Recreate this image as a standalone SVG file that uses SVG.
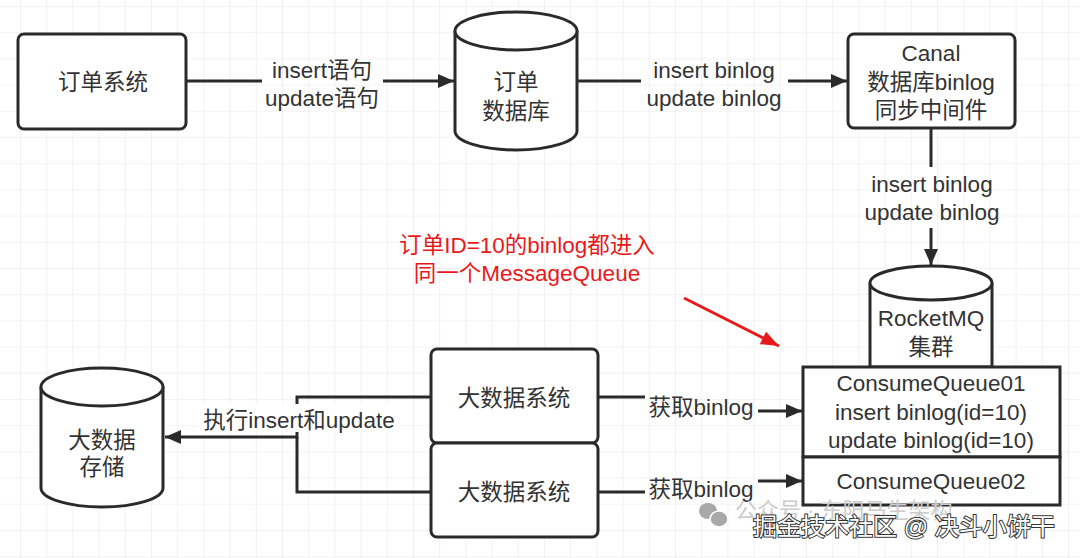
<svg xmlns="http://www.w3.org/2000/svg" width="1080" height="558" viewBox="0 0 1080 558">
<defs>
<pattern id="grid" x="20" y="6" width="26.2" height="26.2" patternUnits="userSpaceOnUse">
<path d="M0,0 V26.2 M0,0 H26.2" fill="none" stroke="#e8e8e8" stroke-width="1.2"/>
</pattern>
<marker id="arr" markerUnits="userSpaceOnUse" markerWidth="18" markerHeight="18" viewBox="0 0 18 18" refX="17" refY="9" orient="auto">
<path d="M1,2 L17,9 L1,16 Z" fill="#2a2a2a"/>
</marker>
<marker id="arrRed" markerUnits="userSpaceOnUse" markerWidth="20" markerHeight="20" viewBox="0 0 20 20" refX="19" refY="10" orient="auto">
<path d="M1,3 L19,10 L1,17 Z" fill="#e8191b"/>
</marker>
</defs>
<style>
.shape{fill:#ffffff;stroke:#2a2a2a;stroke-width:3}
.t{font-family:"Liberation Sans","Noto Sans CJK SC",sans-serif;font-size:22.5px;fill:#333333;text-anchor:middle}
.edge{fill:none;stroke:#2a2a2a;stroke-width:3}
.lbg{fill:#ffffff}
.red{font-family:"Liberation Sans","Noto Sans CJK SC",sans-serif;font-size:22.5px;fill:#e8191b;text-anchor:middle}
</style>
<rect width="1080" height="558" fill="#ffffff"/>
<rect width="1080" height="558" fill="url(#grid)"/>

<g id="connectors">
<path class="edge" d="M186,81 H262"/>
<path class="edge" d="M383,81 H454" marker-end="url(#arr)"/>
<text class="t" x="322" y="78">insert语句</text>
<text class="t" x="322" y="106">update语句</text>

<path class="edge" d="M577,81 H641"/>
<path class="edge" d="M788,81 H847" marker-end="url(#arr)"/>
<text class="t" x="714" y="78">insert binlog</text>
<text class="t" x="714" y="106">update binlog</text>

<path class="edge" d="M931,128 V167"/>
<path class="edge" d="M931,228 V265" marker-end="url(#arr)"/>
<text class="t" x="932" y="192">insert binlog</text>
<text class="t" x="932" y="220">update binlog</text>

<path class="edge" d="M598,397 H645"/>
<path class="edge" d="M758,411 H802" marker-end="url(#arr)"/>
<text class="t" x="701" y="415">获取binlog</text>

<path class="edge" d="M598,492 H645"/>
<path class="edge" d="M758,481 H802" marker-end="url(#arr)"/>
<text class="t" x="701" y="497">获取binlog</text>

<path class="edge" d="M431,397 H297 V437 H165" marker-end="url(#arr)"/>
<path class="edge" d="M431,492 H297 V437"/>
<rect class="lbg" x="198" y="404" width="202" height="28"/>
<text class="t" x="299" y="428">执行insert和update</text>

<path d="M684,298 L779,346" fill="none" stroke="#e8191b" stroke-width="3" marker-end="url(#arrRed)"/>
</g>

<g id="order-system">
<rect class="shape" x="18" y="34" width="168" height="95" rx="6"/>
<text class="t" x="103" y="90">订单系统</text>
</g>

<g id="order-db">
<path class="shape" d="M455,31 V131 A61,19 0 0 0 577,131 V31"/>
<ellipse class="shape" cx="516" cy="31" rx="61" ry="19"/>
<text class="t" x="516" y="90">订单</text>
<text class="t" x="516" y="119">数据库</text>
</g>

<g id="canal">
<rect class="shape" x="848" y="34" width="167" height="94" rx="6"/>
<text class="t" x="931" y="61">Canal</text>
<text class="t" x="931" y="90">数据库binlog</text>
<text class="t" x="931" y="118">同步中间件</text>
</g>

<g id="rocketmq">
<path class="shape" d="M870,283 V367 H992 V283"/>
<ellipse class="shape" cx="931" cy="283" rx="61" ry="17"/>
<text class="t" x="931" y="326">RocketMQ</text>
<text class="t" x="931" y="355">集群</text>
</g>

<g id="consume-queue-01">
<rect class="shape" x="803" y="367" width="257" height="90"/>
<text class="t" x="931" y="391">ConsumeQueue01</text>
<text class="t" x="931" y="420">insert binlog(id=10)</text>
<text class="t" x="931" y="448">update binlog(id=10)</text>
</g>

<g id="consume-queue-02">
<rect class="shape" x="803" y="457" width="257" height="48"/>
<text class="t" x="931" y="489">ConsumeQueue02</text>
</g>

<g id="bigdata-system-1">
<rect class="shape" x="431" y="349" width="167" height="94" rx="6"/>
<text class="t" x="514" y="406">大数据系统</text>
</g>

<g id="bigdata-system-2">
<rect class="shape" x="431" y="443" width="167" height="94" rx="6"/>
<text class="t" x="514" y="500">大数据系统</text>
</g>

<g id="bigdata-storage">
<path class="shape" d="M41,387 V488 A61,19 0 0 0 163,488 V387"/>
<ellipse class="shape" cx="102" cy="387" rx="61" ry="19"/>
<text class="t" x="102" y="448">大数据</text>
<text class="t" x="102" y="475">存储</text>
</g>

<g id="note">
<text class="red" x="527" y="253">订单ID=10的binlog都进入</text>
<text class="red" x="527" y="281">同一个MessageQueue</text>
</g>

<g id="watermark">
<ellipse cx="708" cy="511" rx="9" ry="8" fill="#a8a8a8"/>
<ellipse cx="719" cy="519" rx="9" ry="8" fill="#a8a8a8" stroke="#ffffff" stroke-width="1.5"/>
<text x="735" y="518" font-family="Liberation Sans,Noto Sans CJK SC,sans-serif" font-size="22" fill="#cccccc">公众号 · 东阳马生架构</text>
<text x="753" y="535" font-family="Liberation Sans,Noto Sans CJK SC,sans-serif" font-size="24" fill="#ffffff" stroke="#333333" stroke-width="2" paint-order="stroke">掘金技术社区 @ 决斗小饼干</text>
</g>
</svg>
